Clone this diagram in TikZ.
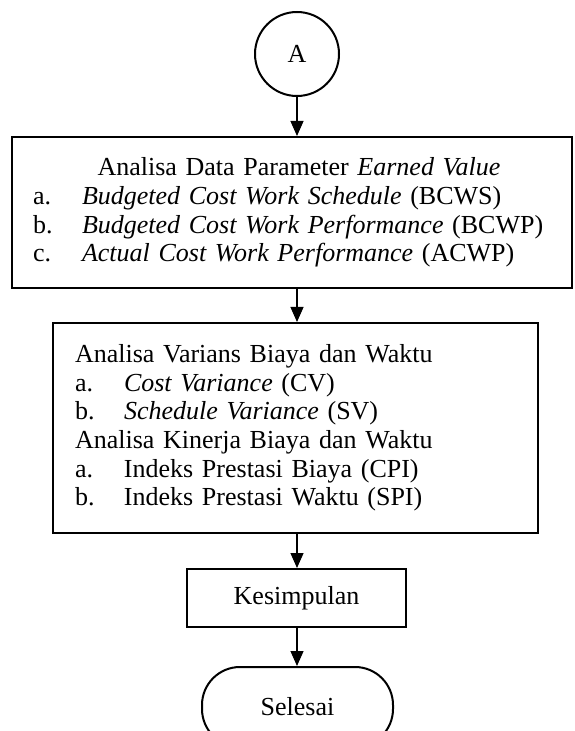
\documentclass[tikz,border=0pt]{standalone}
\usepackage{fontspec}
\setmainfont{Liberation Serif}
\usetikzlibrary{arrows.meta, positioning}
\tikzset{every node/.style={font=\fontsize{13pt}{14.3pt}\selectfont}}
\tikzset{flow/.style={-{Triangle[width=6.5pt,length=7.5pt]}, line width=0.6pt, black}}
\tikzset{box/.style={draw, line width=1pt, rectangle, inner ysep=0pt}}
\tikzset{terminal/.style={draw, line width=1pt, rectangle, rounded corners=19pt}}
\newcommand{\butir}[2]{\makebox[24.5pt][l]{#1}#2}

\begin{document}
\begin{tikzpicture}[x=0.5pt, y=-0.5pt]
	\useasboundingbox (0,0) rectangle (574,731);
	\clip (0,0) rectangle (574,731);

		% Connector
		\node[circle, draw, line width=1pt, minimum size=42pt, inner sep=0pt] (A) at (297,54) {A};

		% Boxes
		%% Earned value
		\node[box, text width=259pt, inner xsep=10.5pt, minimum height=75.5pt, align=left] (ev) at (292,212.5)
			{\makebox[\linewidth]{\hspace{7pt}Analisa Data Parameter \textit{Earned Value}}\\
			 \butir{a.}{\textit{Budgeted Cost Work Schedule} (BCWS)}\\
			 \butir{b.}{\textit{Budgeted Cost Work Performance} (BCWP)}\\
			 \butir{c.}{\textit{Actual Cost Work Performance} (ACWP)}};
		%% Varians dan kinerja
		\node[box, text width=220.5pt, inner xsep=11pt, minimum height=105pt, align=left] (var) at (295.5,428)
			{Analisa Varians Biaya dan Waktu\\
			 \butir{a.}{\textit{Cost Variance} (CV)}\\
			 \butir{b.}{\textit{Schedule Variance} (SV)}\\
			 Analisa Kinerja Biaya dan Waktu\\
			 \butir{a.}{Indeks Prestasi Biaya (CPI)}\\
			 \butir{b.}{Indeks Prestasi Waktu (SPI)}};
		%% Kesimpulan
		\node[box, minimum width=109.5pt, minimum height=29pt] (ks) at (296.5,598) {Kesimpulan};
		%% End
		\node[terminal, minimum width=95.5pt, minimum height=40pt] (end) at (297.5,707) {Selesai};

		% Arrows
		\draw[flow] (A.south) -- (A.south |- ev.north);
		\draw[flow] (A.south |- ev.south) -- (A.south |- var.north);
		\draw[flow] (A.south |- var.south) -- (A.south |- ks.north);
		\draw[flow] (A.south |- ks.south) -- (A.south |- end.north);
	\end{tikzpicture}
\end{document}
